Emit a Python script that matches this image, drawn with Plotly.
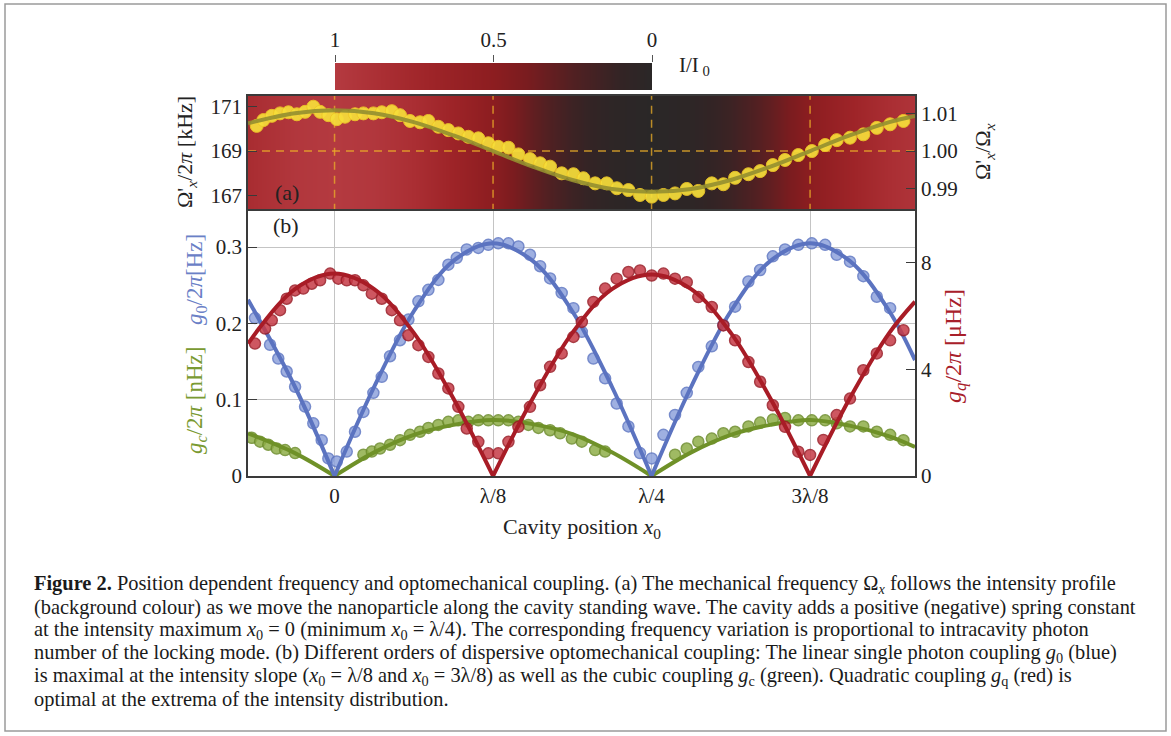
import plotly.graph_objects as go

W, H = 1171, 736
SERIF = "Liberation Serif, Times New Roman, serif"


def fx(p):
    return p / W


def fy(p):
    return 1 - p / H


# ---------------- data (x in units of lambda/8) ----------------
x_range = [-0.546, 3.662]
x_tick_vals = [0, 1, 2, 3]
x_tick_text = ["0", "λ/8", "λ/4", "3λ/8"]

# background intensity I/I0 along the cavity
intensity_x = [-0.75, -0.5, -0.25, 0, 0.25, 0.5, 0.75, 1.0, 1.25, 1.5, 1.75, 2.0,
               2.25, 2.5, 2.75, 3.0, 3.25, 3.5, 3.75]
intensity = [0.69, 0.85, 0.96, 1.0, 0.96, 0.85, 0.69, 0.5, 0.31, 0.15, 0.04, 0.0,
             0.04, 0.15, 0.31, 0.5, 0.69, 0.85, 0.96]
colorbar_levels = [1.0, 0.5, 0.0]

# panel (a): mechanical frequency
omega_x = [-0.491, -0.449, -0.396, -0.344, -0.291, -0.238, -0.186, -0.134, -0.091, -0.039,
           0.014, 0.066, 0.129, 0.182, 0.245, 0.298, 0.361, 0.413,
           0.476, 0.539, 0.592, 0.655, 0.718, 0.781, 0.844, 0.907, 0.970, 1.033, 1.097,
           1.160, 1.233, 1.297, 1.360, 1.433, 1.507, 1.570,
           1.644, 1.717, 1.781, 1.854, 1.927, 2.001,
           2.075, 2.148, 2.222, 2.295, 2.380, 2.453, 2.527, 2.611,
           2.685, 2.765, 2.842, 2.926, 3.011,
           3.095, 3.168, 3.252, 3.336, 3.421, 3.505, 3.589]
omega_khz = [170.13, 170.39, 170.58, 170.69, 170.74, 170.65, 170.76, 170.99, 170.76, 170.61,
             170.43, 170.54, 170.65, 170.69, 170.69, 170.74, 170.79, 170.61,
             170.35, 170.29, 170.35, 170.09, 169.94, 169.79, 169.64, 169.57, 169.35, 169.19, 169.15,
             168.85, 168.64, 168.45, 168.30, 168.00, 167.96, 167.78,
             167.55, 167.55, 167.33, 167.25, 167.03, 166.95,
             167.03, 167.10, 167.30, 167.21, 167.55, 167.51, 167.80, 167.96,
             168.10, 168.37, 168.60, 168.82, 169.00,
             169.27, 169.49, 169.60, 169.75, 170.04, 170.20, 170.35]
omega_fit_x = [-0.546, -0.25, 0, 0.25, 0.5, 0.75, 1.0, 1.25, 1.5, 1.75, 2.0,
               2.25, 2.5, 2.75, 3.0, 3.25, 3.5, 3.662]
omega_fit = [170.25, 170.70, 170.83, 170.70, 170.30, 169.70, 169.00, 168.30, 167.70, 167.30,
             167.17, 167.30, 167.70, 168.30, 169.00, 169.70, 170.30, 170.58]
omega_ref_khz = 169.0
omega_ticks = [167, 169, 171]
ratio_ticks = [0.99, 1.00, 1.01]

# panel (b): couplings
g0_x = [-0.502, -0.407, -0.355, -0.302, -0.249, -0.186, -0.134, -0.081, -0.039, 0.014,
        0.077, 0.129, 0.182, 0.245, 0.298, 0.350, 0.413, 0.466,
        0.529, 0.592, 0.655, 0.718, 0.771, 0.834, 0.907, 0.970, 1.033, 1.097,
        1.160, 1.233, 1.297, 1.360, 1.433, 1.507, 1.560,
        1.633, 1.707, 1.780, 1.854, 1.927, 2.001,
        2.075, 2.148, 2.222, 2.295, 2.380, 2.453, 2.527,
        2.611, 2.685, 2.765, 2.842, 2.926, 3.011,
        3.095, 3.168, 3.252, 3.336, 3.421, 3.505]
g0_hz = [0.207, 0.172, 0.154, 0.137, 0.117, 0.091, 0.069, 0.047, 0.023, 0.019,
         0.032, 0.058, 0.084, 0.109, 0.130, 0.157, 0.178, 0.205,
         0.229, 0.244, 0.257, 0.277, 0.286, 0.297, 0.299, 0.303, 0.305, 0.305,
         0.301, 0.290, 0.275, 0.259, 0.240, 0.220, 0.189,
         0.154, 0.128, 0.095, 0.065, 0.030, 0.023,
         0.054, 0.080, 0.109, 0.143, 0.170, 0.198, 0.222,
         0.255, 0.270, 0.288, 0.297, 0.303, 0.305,
         0.303, 0.290, 0.281, 0.262, 0.235, 0.220]

gq_x = [-0.502, -0.438, -0.396, -0.344, -0.302, -0.249, -0.197, -0.144, -0.091, -0.028,
        0.024, 0.077, 0.129, 0.182, 0.235, 0.298, 0.361, 0.413, 0.466,
        0.529, 0.592, 0.655, 0.718, 0.781, 0.834, 0.907, 0.970, 1.033,
        1.097, 1.160, 1.233, 1.297, 1.360, 1.433, 1.507, 1.560,
        1.633, 1.707, 1.780, 1.854, 1.927, 2.001,
        2.075, 2.148, 2.222, 2.295, 2.380, 2.453, 2.527,
        2.611, 2.685, 2.765, 2.842, 2.926, 3.000,
        3.084, 3.168, 3.252, 3.336, 3.421, 3.505, 3.589]
gq_uhz = [4.96, 5.52, 5.83, 6.21, 6.64, 6.95, 7.02, 7.20, 7.33, 7.58,
          7.39, 7.33, 7.33, 7.14, 6.83, 6.64, 6.21, 5.83, 5.27,
          4.90, 4.46, 3.84, 3.28, 2.59, 1.78, 1.28, 0.85, 0.85,
          1.28, 1.84, 2.59, 3.40, 4.09, 4.59, 5.21, 5.77,
          6.52, 7.02, 7.39, 7.64, 7.70, 7.51,
          7.58, 7.39, 7.26, 6.70, 6.33, 5.64, 5.08,
          4.27, 3.53, 2.65, 1.84, 0.91, 0.79,
          1.35, 2.28, 2.90, 3.96, 4.59, 5.08, 5.46]

gc_x = [-0.522, -0.470, -0.418, -0.365, -0.312, -0.249,
        0.182, 0.235, 0.287, 0.350, 0.413, 0.476, 0.539, 0.592, 0.655, 0.718, 0.781, 0.844, 0.907, 0.970,
        1.033, 1.097, 1.160, 1.223, 1.286, 1.360, 1.423, 1.497, 1.560,
        1.644, 1.707,
        2.148, 2.222, 2.295, 2.380, 2.453, 2.527, 2.611,
        2.685, 2.765, 2.842, 2.926, 3.011, 3.095, 3.168, 3.252, 3.336, 3.421, 3.505, 3.589]
gc_nhz = [0.050, 0.045, 0.041, 0.036, 0.034, 0.030,
          0.028, 0.032, 0.036, 0.041, 0.047, 0.054, 0.058, 0.063, 0.067, 0.071, 0.073, 0.071, 0.073, 0.073,
          0.073, 0.073, 0.071, 0.067, 0.063, 0.060, 0.056, 0.049, 0.045,
          0.034, 0.032,
          0.028, 0.036, 0.045, 0.049, 0.056, 0.058, 0.065,
          0.070, 0.074, 0.076, 0.073, 0.073, 0.073, 0.069, 0.065, 0.065, 0.058, 0.054, 0.047]

fit_x = [-0.546, -0.25, 0, 0.25, 0.5, 0.75, 1.0, 1.25, 1.5, 1.75, 2.0,
         2.25, 2.5, 2.75, 3.0, 3.25, 3.5, 3.662]
g0_fit = [0.231, 0.117, 0.0, 0.117, 0.216, 0.282, 0.305, 0.282, 0.216, 0.117, 0.0,
          0.117, 0.216, 0.282, 0.305, 0.282, 0.216, 0.152]
gq_fit = [4.96, 7.00, 7.58, 7.00, 5.36, 2.90, 0.0, 2.90, 5.36, 7.00, 7.55,
          7.00, 5.36, 2.90, 0.0, 2.90, 5.36, 6.53]
gc_fit = [0.056, 0.030, 0.0, 0.031, 0.054, 0.067, 0.0735, 0.068, 0.055, 0.031, 0.0,
          0.031, 0.054, 0.067, 0.0735, 0.066, 0.052, 0.038]

left_b_ticks = [0, 0.1, 0.2, 0.3]
right_b_ticks = [0, 4, 8]

caption_lines = [
    "<b>Figure 2.</b> Position dependent frequency and optomechanical coupling. (a) The mechanical frequency Ω<sub><i>x</i></sub> follows the intensity profile",
    "(background colour) as we move the nanoparticle along the cavity standing wave. The cavity adds a positive (negative) spring constant",
    "at the intensity maximum <i>x</i><sub>0</sub> = 0 (minimum <i>x</i><sub>0</sub> = λ/4). The corresponding frequency variation is proportional to intracavity photon",
    "number of the locking mode. (b) Different orders of dispersive optomechanical coupling: The linear single photon coupling <i>g</i><sub>0</sub> (blue)",
    "is maximal at the intensity slope (<i>x</i><sub>0</sub> = λ/8 and <i>x</i><sub>0</sub> = 3λ/8) as well as the cubic coupling <i>g</i><sub>c</sub> (green). Quadratic coupling <i>g</i><sub>q</sub> (red) is",
    "optimal at the extrema of the intensity distribution.",
]

# ---------------- styling ----------------
BLUE_L, BLUE_F, BLUE_E = "#5b73c0", "#8fa3dc", "#5f77c3"
RED_L, RED_F, RED_E = "#a81c26", "#c63a46", "#9a1a24"
GRN_L, GRN_F, GRN_E = "#6f9128", "#8fae48", "#6c8c2a"
YEL_F, YEL_E, OLIVE = "#f7df3a", "#f0c828", "#948f30"
AX = "#3a3a3a"
CS = [[0.0, "#2a2727"], [0.1, "#332425"], [0.25, "#512022"], [0.4, "#7a1c1f"],
      [0.5, "#8c1d20"], [0.7, "#9e2428"], [0.85, "#aa2e33"], [1.0, "#b43a40"]]


def split_at_zero(xs, ys):
    ox, oy = [], []
    for i, (a, b) in enumerate(zip(xs, ys)):
        ox.append(a)
        oy.append(b)
        if b == 0 and 0 < i < len(xs) - 1:
            ox += [None, a]
            oy += [None, b]
    return ox, oy


fig = go.Figure()

# background heatmap panel (a)
fig.add_trace(go.Heatmap(x=intensity_x, y=[160, 180], z=[intensity, intensity],
                         colorscale=CS, zmin=0, zmax=1, zsmooth="best", showscale=False,
                         xaxis="x2", yaxis="y3", hoverinfo="skip"))

# dashed guide lines in (a)
vx, vy = [], []
for t in x_tick_vals:
    vx += [t, t, None]
    vy += [160, 180, None]
fig.add_trace(go.Scatter(x=vx, y=vy, mode="lines", xaxis="x2", yaxis="y3",
                         line=dict(color="rgba(236,175,40,0.75)", width=1.5, dash="8px,6px"),
                         hoverinfo="skip", showlegend=False))
fig.add_trace(go.Scatter(x=[x_range[0], x_range[1]], y=[omega_ref_khz, omega_ref_khz], mode="lines",
                         xaxis="x2", yaxis="y3",
                         line=dict(color="rgba(236,175,40,0.8)", width=1.5, dash="8px,6px"),
                         hoverinfo="skip", showlegend=False))

# panel (a) data
fig.add_trace(go.Scatter(x=omega_x, y=omega_khz, mode="markers", xaxis="x2", yaxis="y3",
                         marker=dict(size=13, color=YEL_F, opacity=0.92, line=dict(color=YEL_E, width=1)),
                         showlegend=False))
fig.add_trace(go.Scatter(x=omega_fit_x, y=omega_fit, mode="lines", xaxis="x2", yaxis="y3",
                         line=dict(color=OLIVE, width=4, shape="spline"), opacity=0.9, showlegend=False))
# same points on the normalised (right) axis, invisible: keeps that axis drawn
fig.add_trace(go.Scatter(x=omega_x, y=[v / omega_ref_khz for v in omega_khz], mode="markers",
                         xaxis="x2", yaxis="y4", marker=dict(size=1, opacity=0),
                         hoverinfo="skip", showlegend=False))

# colorbar as heatmap
fig.add_trace(go.Heatmap(x=colorbar_levels, y=[0, 1], z=[colorbar_levels, colorbar_levels],
                         colorscale=CS, zmin=0, zmax=1, zsmooth="best", showscale=False,
                         xaxis="x3", yaxis="y5", hoverinfo="skip"))

# panel (b) data
mk = lambda f, e: dict(size=11, color=f, opacity=0.85, line=dict(color=e, width=1.5))
fig.add_trace(go.Scatter(x=gc_x, y=gc_nhz, mode="markers", marker=mk(GRN_F, GRN_E),
                         xaxis="x", yaxis="y", showlegend=False))
fig.add_trace(go.Scatter(x=g0_x, y=g0_hz, mode="markers", marker=mk(BLUE_F, BLUE_E),
                         xaxis="x", yaxis="y", showlegend=False))
fig.add_trace(go.Scatter(x=gq_x, y=gq_uhz, mode="markers", marker=mk(RED_F, RED_E),
                         xaxis="x", yaxis="y2", showlegend=False))

sx, sy = split_at_zero(fit_x, gc_fit)
fig.add_trace(go.Scatter(x=sx, y=sy, mode="lines", line=dict(color=GRN_L, width=4, shape="spline"),
                         xaxis="x", yaxis="y", showlegend=False))
sx, sy = split_at_zero(fit_x, g0_fit)
fig.add_trace(go.Scatter(x=sx, y=sy, mode="lines", line=dict(color=BLUE_L, width=4, shape="spline"),
                         xaxis="x", yaxis="y", showlegend=False))
sx, sy = split_at_zero(fit_x, gq_fit)
fig.add_trace(go.Scatter(x=sx, y=sy, mode="lines", line=dict(color=RED_L, width=4, shape="spline"),
                         xaxis="x", yaxis="y2", showlegend=False))

tickfont = dict(family=SERIF, size=21, color="#222")
XD = [fx(248), fx(915)]

fig.update_layout(
    width=W, height=H, margin=dict(l=0, r=0, t=0, b=0, autoexpand=False),
    paper_bgcolor="white", plot_bgcolor="white",
    font=dict(family=SERIF, size=21, color="#222"),
    xaxis=dict(domain=XD, anchor="y", range=x_range, tickvals=x_tick_vals, ticktext=x_tick_text,
               showgrid=True, gridcolor="#c4c4c4", gridwidth=1, zeroline=False,
               showline=True, linecolor=AX, linewidth=1.5, mirror=True, ticks="",
               tickfont=tickfont, automargin=False),
    yaxis=dict(domain=[fy(476), fy(209)], anchor="x", range=[0, 0.35], tickvals=left_b_ticks,
               ticktext=["0", "0.1", "0.2", "0.3"], showgrid=True, gridcolor="#c4c4c4",
               zeroline=False, showline=True, linecolor=AX, linewidth=1.5, mirror=True,
               ticks="inside", ticklen=9, tickcolor=AX, tickwidth=1.2, tickfont=tickfont,
               automargin=False),
    yaxis2=dict(overlaying="y", side="right", anchor="x", range=[0, 10], tickvals=right_b_ticks,
                showgrid=False, zeroline=False, ticks="inside", ticklen=9, tickcolor=AX,
                tickwidth=1.2, tickfont=tickfont, ticklabelstandoff=5, automargin=False),
    xaxis2=dict(domain=XD, anchor="y3", range=x_range, showticklabels=False, showgrid=False,
                zeroline=False, showline=True, linecolor=AX, linewidth=1.5, mirror=True, ticks="",
                automargin=False),
    yaxis3=dict(domain=[fy(209), fy(96)], anchor="x2", range=[166.40, 171.47], tickvals=omega_ticks,
                showgrid=False, zeroline=False, showline=True, linecolor=AX, linewidth=1.5,
                mirror=True, ticks="inside", ticklen=9, tickcolor=AX, tickwidth=1.2, tickfont=tickfont,
                automargin=False),
    yaxis4=dict(overlaying="y3", side="right", anchor="x2", range=[0.98462, 1.01459],
                tickvals=ratio_ticks, ticktext=["0.99", "1.00", "1.01"], showgrid=False,
                zeroline=False, ticks="inside", ticklen=9, tickcolor=AX, tickwidth=1.2,
                tickfont=tickfont, ticklabelstandoff=5, automargin=False),
    xaxis3=dict(domain=[fx(335), fx(652)], anchor="y5", range=[1, 0], side="top",
                tickvals=colorbar_levels, ticktext=["1", "0.5", "0"], ticks="outside",
                ticklen=7, tickcolor="#555", tickwidth=1.2, showgrid=False, zeroline=False,
                showline=False, tickfont=dict(family=SERIF, size=21, color="#222"), automargin=False),
    yaxis5=dict(domain=[fy(90), fy(63)], anchor="x3", range=[0, 1], visible=False, automargin=False),
)

ann = []


def A(text, x, y, size=22, color="#222", angle=0, xanchor="center"):
    ann.append(dict(text=text, x=fx(x), y=fy(y), xref="paper", yref="paper", showarrow=False,
                    textangle=angle, xanchor=xanchor, yanchor="middle",
                    font=dict(family=SERIF, size=size, color=color)))


A("(a)", 287, 193, size=22)
A("(b)", 286, 226, size=22)
A("Ω'<sub><i>x</i></sub>/2<i>π</i> [kHz]", 186, 152, size=22, angle=-90)
A("Ω'<sub><i>x</i></sub>/Ω<sub><i>x</i></sub>", 984, 152, size=22, angle=-90)
A("<i>g</i><sub>0</sub>/2<i>π</i>[Hz]", 196, 280, size=23, color="#6a80c6", angle=-90)
A("<i>g<sub>c</sub></i>/2<i>π</i> [nHz]", 196, 401, size=23, color="#7a9a32", angle=-90)
A("<i>g<sub>q</sub></i>/2<i>π</i> [μHz]", 955, 346, size=24, color="#a8202a", angle=-90)
A("Cavity position <i>x</i><sub>0</sub>", 582, 528, size=22)
A("I/I<sub> 0</sub>", 694, 66, size=21)
for i, line in enumerate(caption_lines):
    A(line, 32, 584 + 23 * i, size=20.4, color="#1a1a1a", xanchor="left")

fig.update_layout(annotations=ann)
fig.add_shape(type="rect", xref="paper", yref="paper", x0=fx(5), x1=fx(1166), y0=fy(731), y1=fy(4),
              line=dict(color="#9a9a9a", width=1.5))

fig.write_html("out.html", config={"displayModeBar": False},
               post_script="document.body.style.margin='0';document.body.style.overflow='hidden';")
